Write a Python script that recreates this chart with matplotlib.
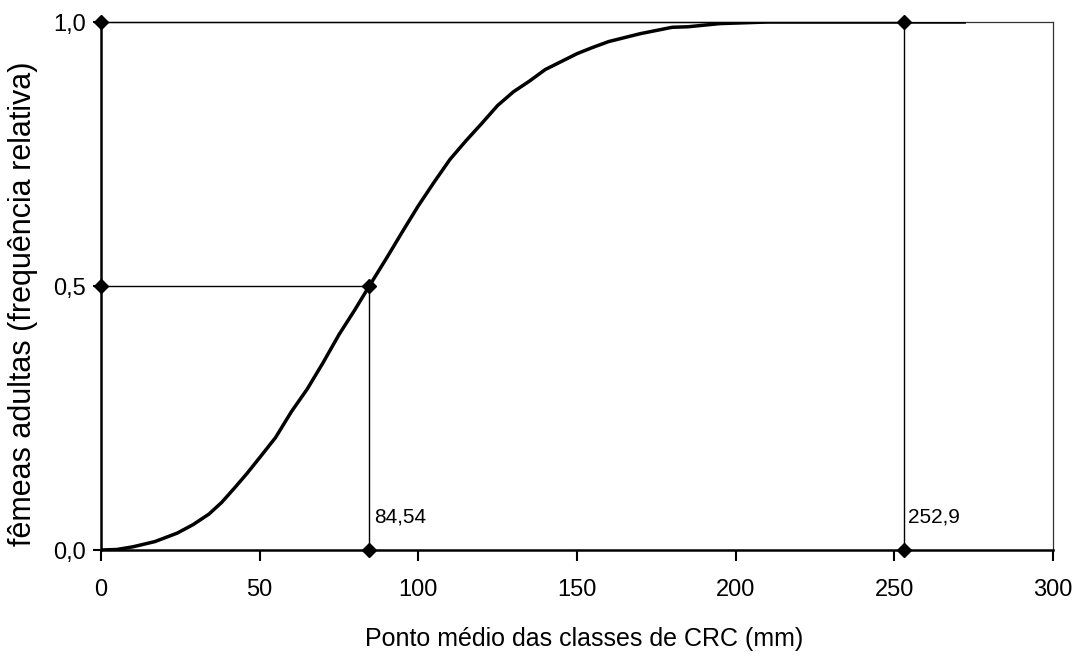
import matplotlib
matplotlib.use('Agg')
import matplotlib.pyplot as plt

# proporção acumulada de fêmeas adultas por classe de CRC
crc = [0, 5, 10, 17, 24, 29, 34, 38, 42, 46, 50, 55, 60, 65, 70, 75, 80, 84.54,
       90, 95, 100, 105, 110, 115, 120, 125, 130, 135, 140, 145, 150, 155, 160,
       170, 180, 185, 190, 195, 200, 210, 272]
prop = [0.0, 0.001, 0.006, 0.016, 0.032, 0.048, 0.068, 0.09, 0.117, 0.145, 0.175,
        0.213, 0.262, 0.305, 0.355, 0.408, 0.455, 0.5, 0.553, 0.603, 0.652, 0.697,
        0.74, 0.775, 0.808, 0.842, 0.868, 0.888, 0.91, 0.925, 0.94, 0.952, 0.963,
        0.978, 0.99, 0.991, 0.994, 0.997, 0.998, 1.0, 1.0]

l50 = 84.54
l100 = 252.9

xticks = [0, 50, 100, 150, 200, 250, 300]
yticks = [0.0, 0.5, 1.0]
ylabels = ['0,0', '0,5', '1,0']

narrow = ['Liberation Sans Narrow', 'Liberation Sans', 'DejaVu Sans']
normal = ['Liberation Sans', 'DejaVu Sans']

fig = plt.figure(figsize=(10.78, 6.61), dpi=100)
ax = fig.add_axes([0.0937, 0.1679, 0.8831, 0.7988])

ax.plot([0, l50, l50], [0.5, 0.5, 0], color='black', lw=1.0,
        marker='D', ms=7, clip_on=False, zorder=3)
ax.plot([0, l100, l100], [1, 1, 0], color='black', lw=1.0,
        marker='D', ms=7, clip_on=False, zorder=3)
ax.plot(crc, prop, color='black', lw=2.5, solid_joinstyle='round', zorder=4)

ax.text(l50 + 1.5, 0.045, '84,54', fontsize=15, family=normal, va='bottom')
ax.text(l100 + 1.5, 0.045, '252,9', fontsize=15, family=normal, va='bottom')

ax.set_xlim(0, 300)
ax.set_ylim(0, 1)
ax.set_xticks(xticks)
ax.set_xticklabels([str(v) for v in xticks], family=narrow, fontsize=17)
ax.set_yticks(yticks)
ax.set_yticklabels(ylabels, family=narrow, fontsize=17)
ax.tick_params(axis='x', direction='out', length=8, width=1.5, pad=13)
ax.tick_params(axis='y', direction='out', length=6, width=1.5, pad=5)

for side in ['left', 'bottom']:
    ax.spines[side].set_linewidth(1.8)
for side in ['top', 'right']:
    ax.spines[side].set_linewidth(0.9)
    ax.spines[side].set_color('#333333')

ax.set_xlabel('Ponto médio das classes de CRC (mm)', family=narrow, fontsize=18)
ax.xaxis.set_label_coords(0.508, -0.145)
ax.set_ylabel('fêmeas adultas (frequência relativa)', family=normal, fontsize=22)
ax.yaxis.set_label_coords(-0.066, 0.467)

fig.savefig('out.png', dpi=100)
